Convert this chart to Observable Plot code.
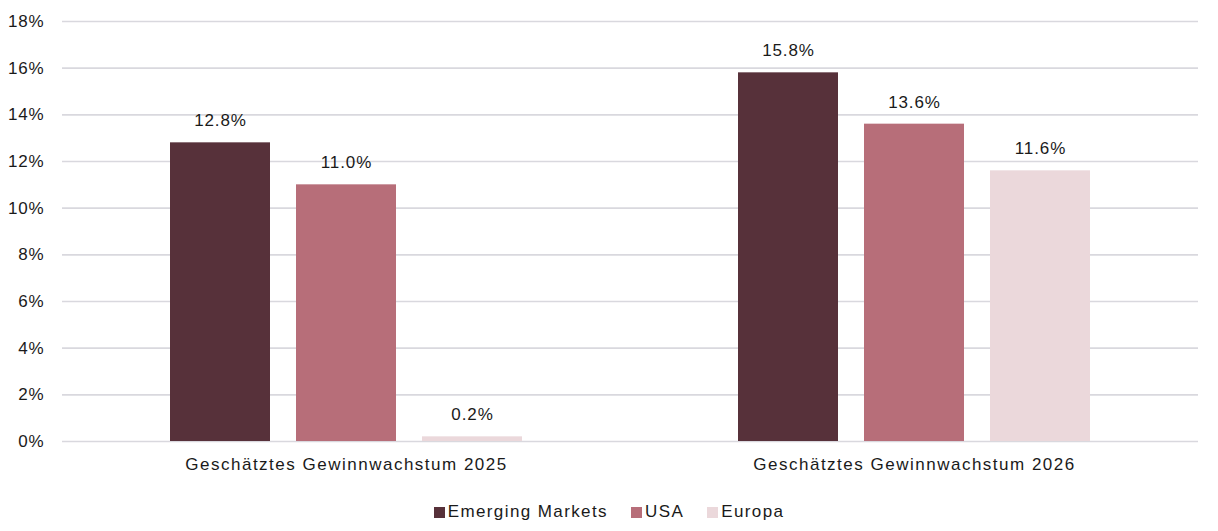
<!DOCTYPE html>
<html>
<head>
<meta charset="utf-8">
<script src="https://cdn.jsdelivr.net/npm/d3@7"></script>
<script src="https://cdn.jsdelivr.net/npm/@observablehq/plot@0.6"></script>
<style>
  html, body { margin: 0; padding: 0; background: #fff; }
  body { width: 1218px; font-family: "Liberation Sans", Arial, sans-serif; color: #1a1a1a; }
  #chart svg { letter-spacing: 0.9px; }
  #chart svg g[aria-label="fx-axis tick label"] { letter-spacing: 1.5px; }
  #chart svg g[aria-label="y-axis tick label"] { letter-spacing: 0.8px; }
  #legend { display: flex; justify-content: center; gap: 23px; font-size: 17px; margin-top: 21px; letter-spacing: 1.4px; }
  #legend span.item { display: flex; align-items: center; }
  #legend span.sw { width: 11px; height: 11px; display: inline-block; margin-right: 3px; }
</style>
</head>
<body>
<div id="chart"></div>
<div id="legend"></div>
<script>
const groups = ["Geschätztes Gewinnwachstum 2025", "Geschätztes Gewinnwachstum 2026"];
const seriesNames = ["Emerging Markets", "USA", "Europa"];
const colors = ["#57313a", "#b76e79", "#ebd8db"];
const values2025 = [12.8, 11.0, 0.2];
const values2026 = [15.8, 13.6, 11.6];
const yTicks = [0, 2, 4, 6, 8, 10, 12, 14, 16, 18];

const data = [];
[values2025, values2026].forEach((vals, gi) => {
  vals.forEach((v, si) => data.push({ group: groups[gi], series: seriesNames[si], value: v }));
});

const font = '"Liberation Sans", Arial, sans-serif';

const plot = Plot.plot({
  width: 1218,
  height: 481,
  marginLeft: 61,
  marginRight: 20,
  marginTop: 21,
  marginBottom: 40,
  style: { fontFamily: font, fontSize: "17px", color: "#1a1a1a", background: "#fff" },
  fx: { domain: groups, padding: 0, label: null, axis: "bottom", tickSize: 0, tickPadding: 16 },
  x: { domain: seriesNames, paddingInner: 0.21, paddingOuter: 0.85, axis: null },
  y: { domain: [0, 18], ticks: yTicks, label: null, axis: null },
  color: { domain: seriesNames, range: colors },
  marks: [
    Plot.ruleY(yTicks, { stroke: "#d9d8de", strokeWidth: 1.6 }),
    Plot.barY(data, { fx: "group", x: "series", y: "value", fill: "series" }),
    Plot.text(data, { fx: "group", x: "series", y: "value", text: d => d.value.toFixed(1) + "%", dy: -22, fill: "#1a1a1a", fontSize: 17 }),
    Plot.axisY(yTicks, { facetAnchor: "left", anchor: "left", tickSize: 0, tickPadding: 18, tickFormat: d => d + "%", label: null, fontSize: 17, fill: "#1a1a1a" })
  ]
});
document.getElementById("chart").appendChild(plot);

const legend = document.getElementById("legend");
seriesNames.forEach((s, i) => {
  const item = document.createElement("span");
  item.className = "item";
  const sw = document.createElement("span");
  sw.className = "sw";
  sw.style.background = colors[i];
  item.appendChild(sw);
  item.appendChild(document.createTextNode(s));
  legend.appendChild(item);
});
</script>
</body>
</html>
